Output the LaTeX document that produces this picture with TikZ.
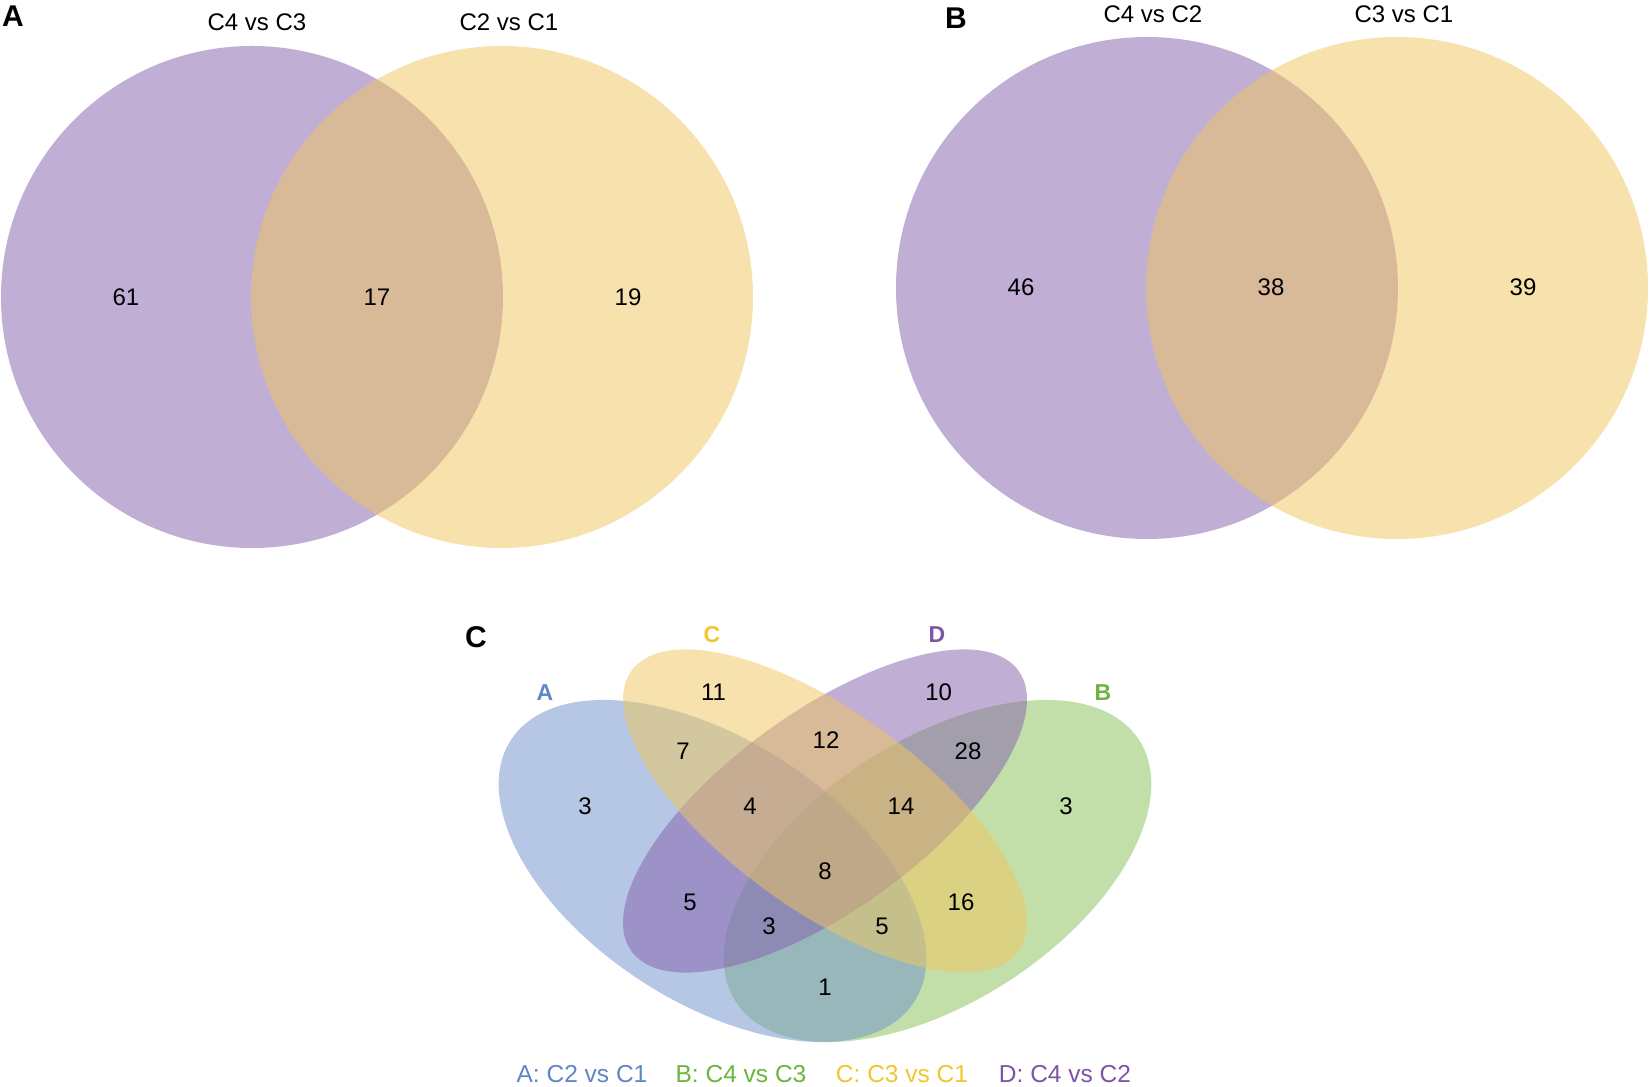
\documentclass[tikz,border=0pt]{standalone}
\usepackage{fontspec}
\setmainfont{Liberation Sans}
\definecolor{vpurple}{RGB}{131,95,173}
\definecolor{vyellow}{RGB}{241,199,93}
\definecolor{vblue}{RGB}{111,145,205}
\definecolor{vgreen}{RGB}{137,193,85}
\definecolor{tblue}{RGB}{95,134,198}
\definecolor{tgreen}{RGB}{108,180,62}
\definecolor{tyellow}{RGB}{242,197,48}
\definecolor{tpurple}{RGB}{124,86,166}
\begin{document}
\begin{tikzpicture}[x=1pt,y=1pt,
  num/.style={font=\fontsize{24}{28}\selectfont, inner sep=0pt},
  ttl/.style={font=\fontsize{24}{28}\selectfont, inner sep=0pt},
  panel/.style={font=\fontsize{30}{34}\selectfont\bfseries, inner sep=0pt},
  setlab/.style={font=\fontsize{23}{27}\selectfont\bfseries, inner sep=0pt},
  leg/.style={font=\fontsize{24.5}{28}\selectfont, inner sep=0pt},
  venn/.style={fill opacity=0.5}]
\useasboundingbox (0,0) rectangle (1650,1087);
\fill[white] (0,0) rectangle (1650,1087);

% ---------- Panel A ----------
\fill[vpurple, venn] (252,790) circle (251);
\fill[vyellow, venn] (502,790) circle (251);
\node[panel] (pA) at (13,1071) {A};
\node[ttl] (tA1) at (257,1065) {C4 vs C3};
\node[ttl] (tA2) at (509,1065) {C2 vs C1};
\node[num] (a61) at (126,790) {61};
\node[num] (a17) at (377,790) {17};
\node[num] (a19) at (628,790) {19};

% ---------- Panel B ----------
\fill[vpurple, venn] (1147,799) circle (251);
\fill[vyellow, venn] (1397,799) circle (251);
\node[panel] (pB) at (956,1069) {B};
\node[ttl] (tB1) at (1153,1073) {C4 vs C2};
\node[ttl] (tB2) at (1404,1073) {C3 vs C1};
\node[num] (b46) at (1021,800) {46};
\node[num] (b38) at (1271,800) {38};
\node[num] (b39) at (1523,800) {39};

% ---------- Panel C ----------
\begin{scope}[shift={(450,-66)}, xscale=750, yscale=600]
  \fill[vgreen, venn, shift={(0.65,0.47)}, rotate=45] (0,0) ellipse (0.35 and 0.2);
  \fill[vblue, venn, shift={(0.35,0.47)}, rotate=-45] (0,0) ellipse (0.35 and 0.2);
  \fill[vpurple, venn, shift={(0.5,0.57)}, rotate=45] (0,0) ellipse (0.35 and 0.15);
  \fill[vyellow, venn, shift={(0.5,0.57)}, rotate=-45] (0,0) ellipse (0.35 and 0.15);
\end{scope}
\node[panel] (pC) at (476,449.5) {C};
\node[setlab, text=tblue] (lA) at (545,394.5) {A};
\node[setlab, text=tgreen] (lB) at (1103,394.5) {B};
\node[setlab, text=tyellow] (lC) at (712,452) {C};
\node[setlab, text=tpurple] (lD) at (937,452) {D};

\node[num] (c11) at (713.5,394.6) {11};
\node[num] (c10) at (938.7,394.6) {10};
\node[num] (c12) at (826,347.2) {12};
\node[num] (c7) at (683,335.7) {7};
\node[num] (c28) at (968,335.7) {28};
\node[num] (c3a) at (585,281) {3};
\node[num] (c4) at (750,281) {4};
\node[num] (c14) at (901,281) {14};
\node[num] (c3b) at (1066,281) {3};
\node[num] (c8) at (825,216) {8};
\node[num] (c5a) at (690,185) {5};
\node[num] (c16) at (961,185) {16};
\node[num] (c3c) at (769,161) {3};
\node[num] (c5b) at (882,161) {5};
\node[num] (c1) at (825,100) {1};

\node[leg, text=tblue] (gA) at (582,13) {A: C2 vs C1};
\node[leg, text=tgreen] (gB) at (741,13) {B: C4 vs C3};
\node[leg, text=tyellow] (gC) at (902,13) {C: C3 vs C1};
\node[leg, text=tpurple] (gD) at (1065,13) {D: C4 vs C2};
\end{tikzpicture}
\end{document}
